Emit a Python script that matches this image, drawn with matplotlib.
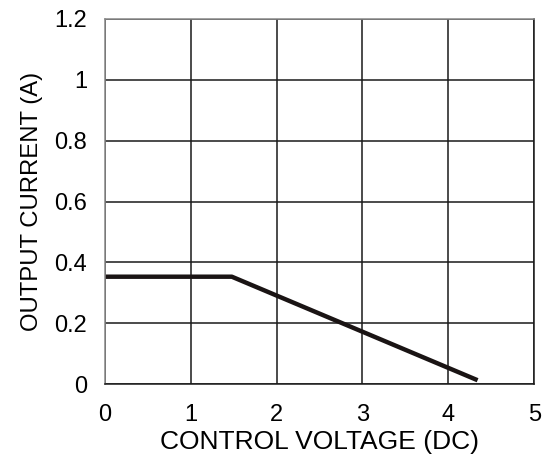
import matplotlib
matplotlib.use("Agg")
import matplotlib.pyplot as plt

# data
voltage = [0.0, 1.48, 4.34]
current = [0.353, 0.353, 0.013]

x_ticks = [0, 1, 2, 3, 4, 5]
y_ticks = [0, 0.2, 0.4, 0.6, 0.8, 1.0, 1.2]
y_tick_labels = ['0', '0.2', '0.4', '0.6', '0.8', '1', '1.2']

plt.rcParams['font.family'] = ['Liberation Sans', 'DejaVu Sans']

fig = plt.figure(figsize=(5.48, 4.59), dpi=100)
ax = fig.add_axes([0.191, 0.163, 0.784, 0.796])

ax.plot(voltage, current, color='#1a1414', linewidth=3.2, solid_capstyle='butt')

ax.set_xlim(0, 5)
ax.set_ylim(0, 1.2)
ax.set_xticks(x_ticks)
ax.set_yticks(y_ticks)
ax.set_yticklabels(y_tick_labels)
ax.grid(True, color='#1a1a1a', linewidth=1.1)
ax.set_axisbelow(True)
ax.tick_params(axis='y', length=0, labelsize=17, pad=12.5)
ax.tick_params(axis='x', length=0, labelsize=17, pad=14)

for side in ['left', 'top']:
    ax.spines[side].set_color('#888888')
for side in ['right', 'bottom']:
    ax.spines[side].set_color('#1a1a1a')
for s in ax.spines.values():
    s.set_linewidth(1.1)

ax.set_xlabel('CONTROL VOLTAGE (DC)', fontsize=19, labelpad=3)
ax.set_ylabel('OUTPUT CURRENT (A)', fontsize=17.2, labelpad=8)

fig.savefig('out.png', dpi=100)
